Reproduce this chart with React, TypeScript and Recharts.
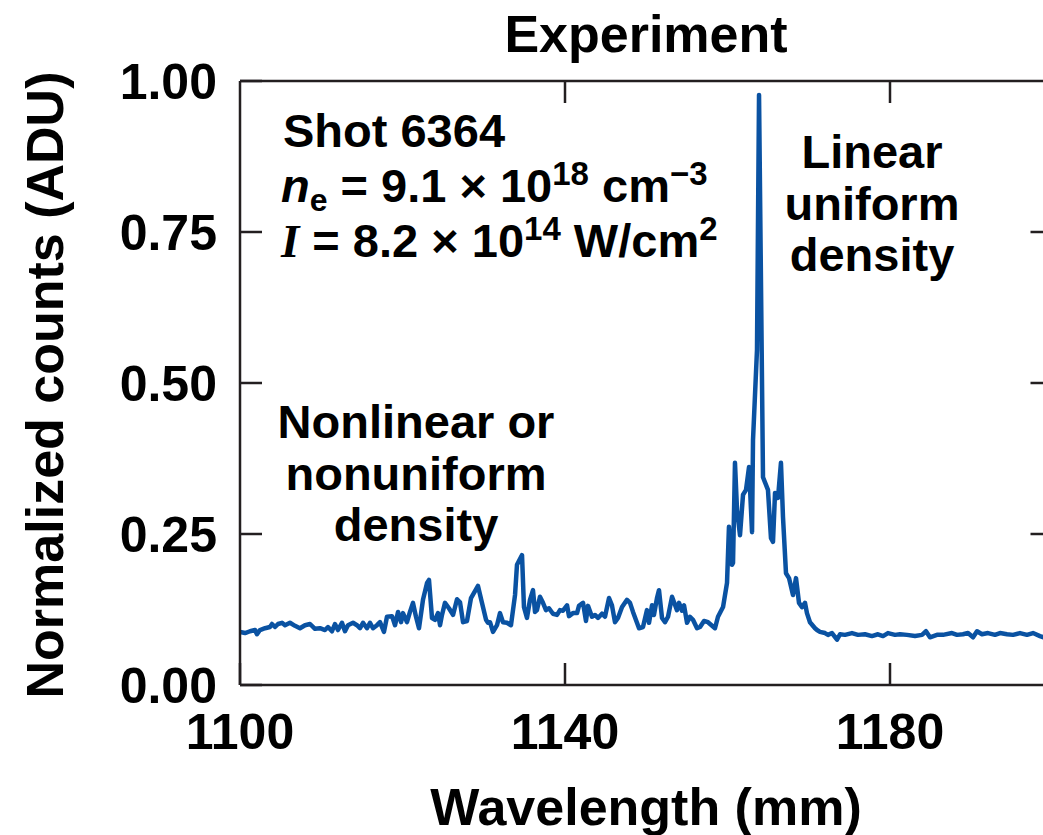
import { Line, LineChart, XAxis, YAxis } from "recharts";

const wavelength = [
  1100.0, 1100.62, 1101.23, 1101.85, 1102.09, 1102.46, 1103.08, 1103.69, 1103.94, 1104.31,
  1104.68, 1105.17, 1105.54, 1106.15, 1106.77, 1107.38, 1108.0, 1108.62, 1109.23, 1109.85,
  1110.46, 1110.83, 1111.32, 1111.69, 1112.06, 1112.55, 1112.92, 1113.29, 1113.91, 1114.4,
  1114.77, 1115.14, 1115.63, 1116.0, 1116.37, 1116.86, 1117.23, 1117.72, 1118.09, 1118.71,
  1119.08, 1119.45, 1119.82, 1120.06, 1120.55, 1120.92, 1121.29, 1121.66, 1122.03, 1122.52,
  1123.02, 1123.26, 1123.63, 1124.0, 1124.37, 1124.62, 1124.86, 1125.23, 1125.72, 1126.22,
  1126.71, 1127.08, 1127.45, 1127.94, 1128.43, 1129.29, 1129.78, 1130.28, 1130.52, 1130.77,
  1131.14, 1131.63, 1132.0, 1132.37, 1132.86, 1133.35, 1133.85, 1134.09, 1134.71, 1134.95,
  1135.32, 1135.69, 1136.06, 1136.31, 1136.55, 1136.92, 1137.29, 1137.66, 1138.03, 1138.52,
  1139.02, 1139.38, 1139.75, 1140.25, 1140.49, 1140.98, 1141.48, 1141.72, 1142.22, 1142.58,
  1142.83, 1143.32, 1143.69, 1144.06, 1144.55, 1144.92, 1145.42, 1145.78, 1146.15, 1146.52,
  1147.02, 1147.63, 1148.0, 1148.37, 1148.86, 1149.11, 1149.6, 1150.09, 1150.34, 1150.71,
  1150.95, 1151.32, 1151.57, 1151.94, 1152.31, 1152.68, 1153.17, 1153.42, 1153.78, 1154.03,
  1154.4, 1154.65, 1155.02, 1155.38, 1155.75, 1156.25, 1156.62, 1157.11, 1157.6, 1158.46,
  1158.83, 1159.45, 1159.94, 1160.18, 1160.55, 1160.68, 1160.92, 1161.17, 1161.54, 1161.91,
  1162.28, 1162.65, 1163.02, 1163.14, 1163.63, 1163.88, 1164.37, 1164.98, 1165.35, 1165.6,
  1165.85, 1166.22, 1166.58, 1166.83, 1167.2, 1167.57, 1168.06, 1168.43, 1168.8, 1169.17,
  1169.54, 1169.78, 1170.15, 1170.77, 1171.02, 1171.38, 1172.0, 1172.37, 1172.86, 1173.48,
  1173.85, 1174.46, 1175.32, 1176.06, 1176.92, 1177.78, 1178.52, 1179.14, 1179.75, 1180.62,
  1181.23, 1182.09, 1183.08, 1183.94, 1184.43, 1184.92, 1185.78, 1186.52, 1187.63, 1188.25,
  1188.98, 1189.6, 1190.22, 1190.71, 1191.32, 1192.06, 1192.92, 1193.54, 1194.4, 1195.14,
  1196.0, 1196.86, 1197.6, 1198.46, 1198.83, 1199.4, 1200.0,
];

const counts = [
  0.088, 0.086, 0.089, 0.091, 0.084, 0.091, 0.094, 0.096, 0.101, 0.096,
  0.101, 0.103, 0.099, 0.103, 0.098, 0.094, 0.099, 0.101, 0.093, 0.094,
  0.091, 0.096, 0.089, 0.101, 0.091, 0.103, 0.089, 0.099, 0.103, 0.099,
  0.094, 0.103, 0.094, 0.103, 0.094, 0.099, 0.104, 0.088, 0.113, 0.114,
  0.099, 0.121, 0.104, 0.119, 0.104, 0.121, 0.136, 0.113, 0.094, 0.141,
  0.169, 0.174, 0.111, 0.108, 0.119, 0.099, 0.116, 0.136, 0.127, 0.116,
  0.142, 0.137, 0.104, 0.106, 0.144, 0.164, 0.136, 0.108, 0.103, 0.104,
  0.088, 0.099, 0.119, 0.104, 0.103, 0.099, 0.149, 0.199, 0.215, 0.129,
  0.111, 0.141, 0.157, 0.121, 0.124, 0.146, 0.136, 0.124, 0.127, 0.118,
  0.116, 0.124, 0.123, 0.132, 0.114, 0.119, 0.119, 0.131, 0.136, 0.106,
  0.131, 0.113, 0.116, 0.111, 0.118, 0.113, 0.144, 0.132, 0.104, 0.111,
  0.129, 0.141, 0.136, 0.121, 0.103, 0.094, 0.096, 0.124, 0.103, 0.132,
  0.116, 0.144, 0.157, 0.111, 0.104, 0.113, 0.146, 0.137, 0.124, 0.136,
  0.123, 0.132, 0.103, 0.113, 0.108, 0.094, 0.096, 0.106, 0.104, 0.094,
  0.113, 0.129, 0.169, 0.262, 0.199, 0.202, 0.368, 0.29, 0.248, 0.315,
  0.323, 0.361, 0.253, 0.406, 0.555, 0.977, 0.344, 0.323, 0.243, 0.237,
  0.318, 0.31, 0.368, 0.278, 0.185, 0.177, 0.149, 0.177, 0.136, 0.129,
  0.136, 0.119, 0.104, 0.094, 0.091, 0.088, 0.086, 0.083, 0.086, 0.075,
  0.084, 0.083, 0.086, 0.083, 0.084, 0.081, 0.084, 0.081, 0.086, 0.083,
  0.084, 0.083, 0.081, 0.083, 0.089, 0.079, 0.083, 0.083, 0.086, 0.083,
  0.084, 0.086, 0.079, 0.089, 0.084, 0.086, 0.083, 0.086, 0.084, 0.083,
  0.086, 0.083, 0.086, 0.081, 0.079, 0.084, 0.083,
];

const xTicks = [1100, 1140, 1180];
const xInnerTicks = [1140, 1180];
const yTicks = [0, 0.25, 0.5, 0.75, 1];
const yInnerTicks = [0.25, 0.5, 0.75];

const data = wavelength.map((w, i) => ({ w, c: counts[i] }));

const FONT = '"Liberation Sans", Arial, Helvetica, sans-serif';
const AXIS = "#231f20";
const BLUE = "#0a52a2";

const noLabel = () => "";

export default function App() {
  const txt = { fontFamily: FONT, fontWeight: "bold", fill: "#000" } as const;
  const axisLine = { stroke: AXIS, strokeWidth: 2.5 };
  return (
    <div
      style={{
        position: "fixed",
        left: 0,
        top: 0,
        width: 1043,
        height: 835,
        overflow: "hidden",
        background: "#fff",
      }}
    >
      {/* axes are 1px thick so they still draw; margins take the rest */}
      <LineChart
        width={1080}
        height={835}
        data={data}
        margin={{ top: 80, left: 239, right: 26.5, bottom: 149 }}
      >
        <XAxis
          xAxisId="bottom"
          dataKey="w"
          type="number"
          domain={[1100, 1200]}
          ticks={xTicks}
          allowDataOverflow
          height={1}
          tickSize={-22}
          tickMargin={50}
          axisLine={axisLine}
          tickLine={axisLine}
          tick={{ ...txt, fontSize: 50 }}
        />
        <XAxis
          xAxisId="top"
          orientation="top"
          dataKey="w"
          type="number"
          domain={[1100, 1200]}
          ticks={xInnerTicks}
          allowDataOverflow
          height={1}
          tickSize={-22}
          tickFormatter={noLabel}
          axisLine={axisLine}
          tickLine={axisLine}
        />
        <YAxis
          yAxisId="left"
          dataKey="c"
          type="number"
          domain={[0, 1]}
          ticks={yTicks}
          allowDataOverflow
          width={1}
          tickSize={-22}
          tickMargin={45}
          tickFormatter={(v: number) => v.toFixed(2)}
          axisLine={axisLine}
          tickLine={axisLine}
          tick={{ ...txt, fontSize: 50 }}
        />
        <YAxis
          yAxisId="right"
          orientation="right"
          dataKey="c"
          type="number"
          domain={[0, 1]}
          ticks={yInnerTicks}
          allowDataOverflow
          width={1}
          tickSize={-22}
          tickFormatter={noLabel}
          axisLine={axisLine}
          tickLine={axisLine}
        />
        <Line
          xAxisId="bottom"
          yAxisId="left"
          dataKey="c"
          type="linear"
          dot={false}
          stroke={BLUE}
          strokeWidth={4.5}
          strokeLinejoin="round"
          isAnimationActive={false}
        />

        <text {...txt} x={646} y={52} fontSize={52} textAnchor="middle">
          Experiment
        </text>
        <text {...txt} x={646} y={825} fontSize={52} textAnchor="middle">
          Wavelength (mm)
        </text>
        <text
          {...txt}
          x={63}
          y={385}
          fontSize={52}
          textAnchor="middle"
          transform="rotate(-90 63 385)"
        >
          Normalized counts (ADU)
        </text>

        <text {...txt} x={283} y={147} fontSize={47}>
          Shot 6364
        </text>
        <text {...txt} x={281} y={202} fontSize={47}>
          <tspan fontStyle="italic">n</tspan>
          <tspan dy={9} fontSize={32}>e</tspan>
          <tspan dy={-9}> = 9.1 × 10</tspan>
          <tspan dy={-17} fontSize={33}>18</tspan>
          <tspan dy={17}> cm</tspan>
          <tspan dy={-17} fontSize={33}>−3</tspan>
        </text>
        <text {...txt} x={281} y={257} fontSize={47}>
          <tspan fontFamily='"Liberation Serif", "Times New Roman", serif' fontStyle="italic">
            I
          </tspan>
          <tspan> = 8.2 × 10</tspan>
          <tspan dy={-17} fontSize={33}>14</tspan>
          <tspan dy={17}> W/cm</tspan>
          <tspan dy={-17} fontSize={33}>2</tspan>
        </text>

        <text {...txt} fontSize={47} textAnchor="middle">
          <tspan x={872} y={168}>Linear</tspan>
          <tspan x={872} y={220}>uniform</tspan>
          <tspan x={872} y={271}>density</tspan>
        </text>
        <text {...txt} fontSize={47} textAnchor="middle">
          <tspan x={416} y={438}>Nonlinear or</tspan>
          <tspan x={416} y={490}>nonuniform</tspan>
          <tspan x={416} y={541}>density</tspan>
        </text>
      </LineChart>
    </div>
  );
}
